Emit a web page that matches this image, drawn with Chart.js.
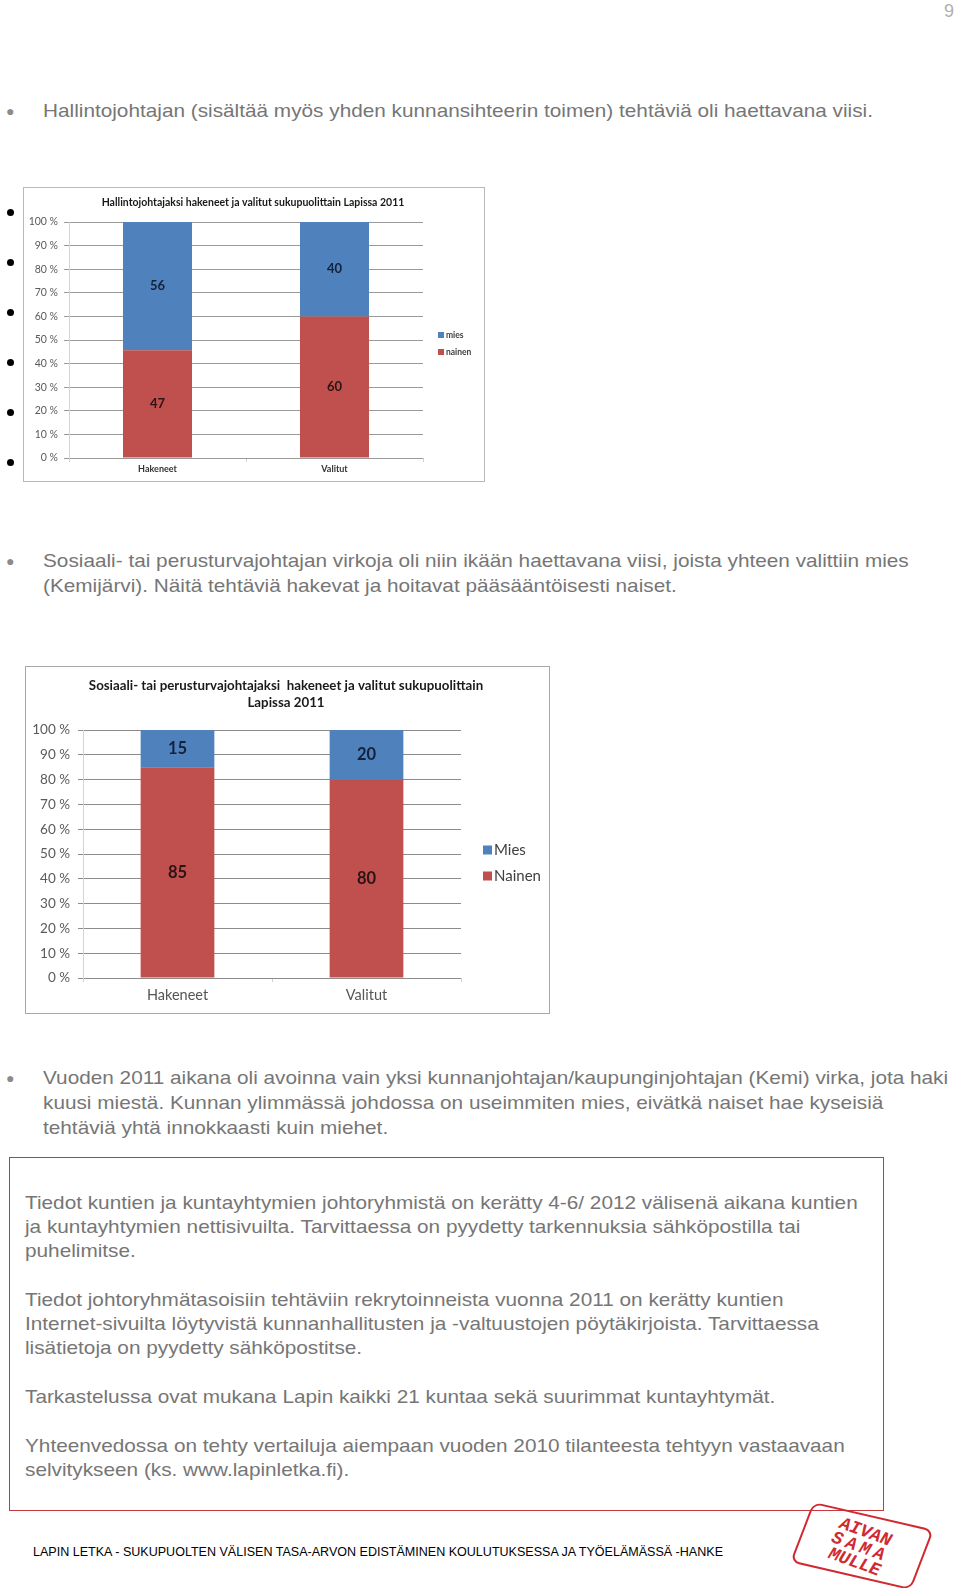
<!DOCTYPE html>
<html><head><meta charset="utf-8">
<script src="https://cdn.jsdelivr.net/npm/chart.js@4.4.1/dist/chart.umd.min.js"></script>
<style>
html,body{margin:0;padding:0;background:#fff;}
body{width:960px;height:1588px;position:relative;overflow:hidden;font-family:"Liberation Sans",Arial,sans-serif;}
.t{position:absolute;white-space:nowrap;font-size:19px;line-height:22px;color:#767676;transform-origin:0 50%;}
.b{position:absolute;font-size:14px;line-height:14px;color:#8a8a8a;}
.d{position:absolute;width:7px;height:7px;border-radius:50%;background:#000;}
.box{position:absolute;box-sizing:border-box;}
canvas{position:absolute;}
</style></head><body>
<div class="t" style="left:944px;top:0px;color:#b0b0b0;font-size:18px;">9</div>

<div class="b" style="left:6px;top:104px;">●</div>
<div class="t" id="ref" style="left:43px;top:100px;">Hallintojohtajan (sisältää myös yhden kunnansihteerin toimen) tehtäviä oli haettavana viisi.</div>

<div class="d" style="left:7px;top:209px;"></div>
<div class="d" style="left:7px;top:259px;"></div>
<div class="d" style="left:7px;top:309px;"></div>
<div class="d" style="left:7px;top:359px;"></div>
<div class="d" style="left:7px;top:409px;"></div>
<div class="d" style="left:7px;top:459px;"></div>

<div class="box" style="left:23px;top:187px;width:462px;height:295px;border:1px solid #b8b8b8;"></div>
<canvas id="c1" width="460" height="293" style="left:24px;top:188px;width:460px;height:293px;"></canvas>

<div class="b" style="left:6px;top:554px;">●</div>
<div class="t" style="left:43px;top:550px;">Sosiaali- tai perusturvajohtajan virkoja oli niin ikään haettavana viisi, joista yhteen valittiin mies</div>
<div class="t" style="left:43px;top:575px;">(Kemijärvi). Näitä tehtäviä hakevat ja hoitavat pääsääntöisesti naiset.</div>

<div class="box" style="left:25px;top:666px;width:525px;height:348px;border:1px solid #a8a8a8;"></div>
<canvas id="c2" width="523" height="346" style="left:26px;top:667px;width:523px;height:346px;"></canvas>

<div class="b" style="left:6px;top:1071px;">●</div>
<div class="t" style="left:43px;top:1067px;">Vuoden 2011 aikana oli avoinna vain yksi kunnanjohtajan/kaupunginjohtajan (Kemi) virka, jota haki</div>
<div class="t" style="left:43px;top:1092px;">kuusi miestä. Kunnan ylimmässä johdossa on useimmiten mies, eivätkä naiset hae kyseisiä</div>
<div class="t" style="left:43px;top:1117px;">tehtäviä yhtä innokkaasti kuin miehet.</div>

<div class="box" style="left:9px;top:1157px;width:875px;height:354px;border:1.5px solid #c4393d;"></div>
<div class="t" style="left:25px;top:1192px;">Tiedot kuntien ja kuntayhtymien johtoryhmistä on kerätty 4-6/ 2012 välisenä aikana kuntien</div>
<div class="t" style="left:25px;top:1216px;">ja kuntayhtymien nettisivuilta. Tarvittaessa on pyydetty tarkennuksia sähköpostilla tai</div>
<div class="t" style="left:25px;top:1240px;">puhelimitse.</div>
<div class="t" style="left:25px;top:1289px;">Tiedot johtoryhmätasoisiin tehtäviin rekrytoinneista vuonna 2011 on kerätty kuntien</div>
<div class="t" style="left:25px;top:1313px;">Internet-sivuilta löytyvistä kunnanhallitusten ja -valtuustojen pöytäkirjoista. Tarvittaessa</div>
<div class="t" style="left:25px;top:1337px;">lisätietoja on pyydetty sähköpostitse.</div>
<div class="t" style="left:25px;top:1386px;">Tarkastelussa ovat mukana Lapin kaikki 21 kuntaa sekä suurimmat kuntayhtymät.</div>
<div class="t" style="left:25px;top:1435px;">Yhteenvedossa on tehty vertailuja aiempaan vuoden 2010 tilanteesta tehtyyn vastaavaan</div>
<div class="t" style="left:25px;top:1459px;">selvitykseen (ks. www.lapinletka.fi).</div>

<div id="foot" style="position:absolute;left:33px;top:1545px;font-size:12.5px;line-height:15px;color:#000;white-space:nowrap;transform-origin:0 50%;">LAPIN LETKA - SUKUPUOLTEN VÄLISEN TASA-ARVON EDISTÄMINEN KOULUTUKSESSA JA TYÖELÄMÄSSÄ -HANKE</div>

<div style="position:absolute;left:800px;top:1514px;width:124px;height:64px;border:2.5px solid #d02a30;border-radius:9px;transform:rotate(13deg) skewX(-8deg);box-sizing:border-box;"></div>
<div style="position:absolute;left:802px;top:1523px;width:116px;text-align:center;transform:rotate(20deg);font-family:'Liberation Mono','DejaVu Sans Mono',monospace;font-weight:bold;font-style:italic;color:#d02a30;font-size:18px;line-height:16px;">AIVAN<br><span style="letter-spacing:4px;">SAMA</span><br>MULLE</div>

<script>
// ---------- data ----------
const categories = ["Hakeneet", "Valitut"];
const seriesNames = ["Nainen", "Mies"];           // stacking order (bottom -> top)
const chart1Title = ["Hallintojohtajaksi hakeneet ja valitut sukupuolittain Lapissa 2011"];
const chart1Legend = ["mies", "nainen"];
const chart1Nainen = [47, 60];
const chart1Mies = [56, 40];
const chart2Title = ["Sosiaali- tai perusturvajohtajaksi  hakeneet ja valitut sukupuolittain", "Lapissa 2011"];
const chart2Legend = ["Mies", "Nainen"];
const chart2Nainen = [85, 80];
const chart2Mies = [15, 20];
const yTicks = [0, 10, 20, 30, 40, 50, 60, 70, 80, 90, 100];

// scale body text to match reference width
(function(){
  const ref = document.getElementById('ref');
  const s = 830 / ref.getBoundingClientRect().width;
  document.querySelectorAll('.t').forEach(e => { if (e.textContent.length > 2) e.style.transform = 'scaleX(' + s + ')'; });
  const f = document.getElementById('foot');
  f.style.transform = 'scaleX(' + (690 / f.getBoundingClientRect().width) + ')';
})();

const BLUE = '#4F81BD', RED = '#C0504D';
const FONT = 'Lato, "Open Sans", sans-serif';

function pct(a, b) { return a.map((v, i) => v / (v + b[i]) * 100); }

function makeChart(id, cfg) {
  const overlay = {
    id: 'overlay',
    afterDatasetsDraw(chart) {
      const ctx = chart.ctx;
      ctx.save();
      ctx.textAlign = 'center'; ctx.textBaseline = 'middle';
      ctx.font = 'bold ' + cfg.labelSize + 'px ' + FONT;
      chart.data.datasets.forEach((ds, di) => {
        chart.getDatasetMeta(di).data.forEach((bar, i) => {
          ctx.fillStyle = di === 0 ? '#2a1414' : '#14213a';
          ctx.fillText(String(ds.counts[i]), bar.x, (bar.y + bar.base) / 2);
        });
      });
      ctx.fillStyle = '#1a1a1a';
      ctx.font = 'bold ' + cfg.titleSize + 'px ' + FONT;
      cfg.title.forEach((line, k) => ctx.fillText(line, cfg.titleX, cfg.titleY + k * cfg.titleLH));
      ctx.textAlign = 'left';
      ctx.font = (cfg.legendBold ? 'bold ' : '') + cfg.legendSize + 'px ' + FONT;
      [1, 0].forEach((di, k) => {
        const y = cfg.legendY + k * cfg.legendLH;
        ctx.fillStyle = chart.data.datasets[di].backgroundColor;
        ctx.fillRect(cfg.legendX, y - cfg.legendBox / 2, cfg.legendBox, cfg.legendBox);
        ctx.fillStyle = '#404040';
        ctx.fillText(cfg.legend[k], cfg.legendX + cfg.legendBox + 2, y);
      });
      ctx.restore();
    }
  };
  return new Chart(document.getElementById(id), {
    type: 'bar',
    data: {
      labels: categories,
      datasets: [
        { label: seriesNames[0], data: pct(cfg.nainen, cfg.mies), counts: cfg.nainen, backgroundColor: RED },
        { label: seriesNames[1], data: pct(cfg.mies, cfg.nainen), counts: cfg.mies, backgroundColor: BLUE }
      ]
    },
    options: {
      responsive: false, animation: false,
      layout: { padding: cfg.padding },
      plugins: { legend: { display: false }, title: { display: false }, tooltip: { enabled: false } },
      datasets: { bar: { categoryPercentage: 1, barPercentage: cfg.barPct } },
      scales: {
        x: {
          stacked: true,
          afterFit: s => { s.height = cfg.xHeight; },
          grid: { offset: true, drawOnChartArea: false, tickLength: 4, color: '#d0d0d0' },
          border: { display: false },
          ticks: { color: cfg.xColor, font: { size: cfg.xSize, family: FONT, weight: cfg.xWeight }, padding: cfg.xPad }
        },
        y: {
          stacked: true, min: 0, max: 100,
          afterFit: s => { s.width = cfg.yWidth; },
          afterBuildTicks: s => { s.ticks = yTicks.map(v => ({ value: v })); },
          grid: { color: cfg.gridColor, lineWidth: 1, tickLength: 5 },
          border: { color: '#d4d4d4' },
          ticks: { color: '#5a5a5a', font: { size: cfg.ySize, family: FONT }, padding: cfg.yPad, callback: v => v + ' %' }
        }
      }
    },
    plugins: [overlay]
  });
}

makeChart('c1', {
  nainen: chart1Nainen, mies: chart1Mies, title: chart1Title, legend: chart1Legend,
  padding: { top: 34, right: 61, left: 0, bottom: 0 }, yWidth: 45, xHeight: 23,
  barPct: 0.39, labelSize: 13, titleSize: 10.5, titleX: 229, titleY: 15, titleLH: 14,
  legendX: 414, legendY: 147, legendLH: 17, legendBox: 6, legendSize: 8.5, legendBold: true,
  xSize: 9, xWeight: 'bold', xColor: '#333', xPad: 2, ySize: 10.5, yPad: 6, gridColor: '#9a9a9a'
});

makeChart('c2', {
  nainen: chart2Nainen, mies: chart2Mies, title: chart2Title, legend: chart2Legend,
  padding: { top: 63, right: 88, left: 0, bottom: 0 }, yWidth: 57, xHeight: 35,
  barPct: 0.39, labelSize: 16.5, titleSize: 13.3, titleX: 260, titleY: 19, titleLH: 17,
  legendX: 457, legendY: 183, legendLH: 26, legendBox: 9, legendSize: 15, legendBold: false,
  xSize: 14.5, xWeight: 'normal', xColor: '#555', xPad: 5, ySize: 13.5, yPad: 8, gridColor: '#8c8c8c'
});
</script>
</body></html>
